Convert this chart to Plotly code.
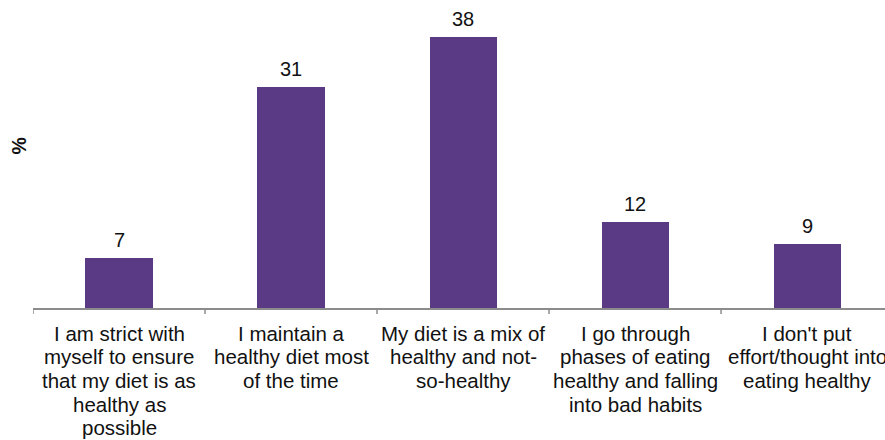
import plotly.graph_objects as go

# Survey answers (wrapped as they appear under the axis) and share of respondents, %
categories = [
    "I am strict with<br>myself to ensure<br>that my diet is as<br>healthy as<br>possible",
    "I maintain a<br>healthy diet most<br>of the time",
    "My diet is a mix of<br>healthy and not-<br>so-healthy",
    "I go through<br>phases of eating<br>healthy and falling<br>into bad habits",
    "I don't put<br>effort/thought into<br>eating healthy",
]
values = [7, 31, 38, 12, 9]

bar_color = "#5B3A85"
text_color = "#111111"
axis_color = "#8c8c8c"
font_family = "Liberation Sans, Arial, sans-serif"

plot_h = 308          # pixel height of the plotting area
label_size = 20.5     # category label font size
line_step = 23.7      # spacing between wrapped label lines
first_line = 25       # offset of the first label line below the axis

xs = list(range(len(categories)))

fig = go.Figure(
    go.Bar(
        x=xs,
        y=values,
        width=0.39,
        marker=dict(color=bar_color, line=dict(width=0)),
        hoverinfo="x+y",
    )
)

annotations = []

# value labels above each bar
for x, v in zip(xs, values):
    annotations.append(dict(
        x=x, y=v, xref="x", yref="y",
        text=str(v),
        xanchor="center", yanchor="bottom",
        yshift=5,
        showarrow=False,
        font=dict(size=20, color=text_color, family=font_family),
    ))

# wrapped category labels under the axis, one annotation per line
for x, label in zip(xs, categories):
    for j, line in enumerate(label.split("<br>")):
        annotations.append(dict(
            x=x, y=0, xref="x", yref="paper",
            text=line,
            xanchor="center", yanchor="middle",
            yshift=-(first_line + j * line_step),
            showarrow=False,
            font=dict(size=label_size, color=text_color, family=font_family),
        ))

# y-axis title
annotations.append(dict(
    text="<b>%</b>",
    xref="paper", yref="paper",
    x=-15 / 852, y=(plot_h - 146.5) / plot_h,
    xanchor="center", yanchor="middle",
    textangle=-90,
    showarrow=False,
    font=dict(size=19.5, color=text_color, family=font_family),
))

fig.update_layout(
    width=885,
    height=440,
    margin=dict(l=33, r=0, t=0, b=440 - plot_h),
    paper_bgcolor="white",
    plot_bgcolor="white",
    showlegend=False,
    bargap=0,
    font=dict(family=font_family, size=18, color=text_color),
    xaxis=dict(
        tickmode="array",
        tickvals=xs,
        showticklabels=False,
        range=[-0.5, 4.453],
        showline=True,
        linecolor=axis_color,
        linewidth=1.5,
        ticks="",
        showgrid=False,
        zeroline=False,
        automargin=False,
    ),
    yaxis=dict(
        range=[0, 43.15],
        showline=False,
        showticklabels=False,
        ticks="",
        showgrid=False,
        zeroline=False,
        automargin=False,
    ),
    annotations=annotations,
)

# tick marks at the category boundaries, hanging below the axis line
for b in [-0.5, 0.5, 1.5, 2.5, 3.5]:
    fig.add_shape(
        type="line",
        xref="x", yref="paper",
        x0=b, x1=b, y0=0, y1=-6 / plot_h,
        line=dict(color=axis_color, width=1.5),
    )

fig.write_html("out.html")
